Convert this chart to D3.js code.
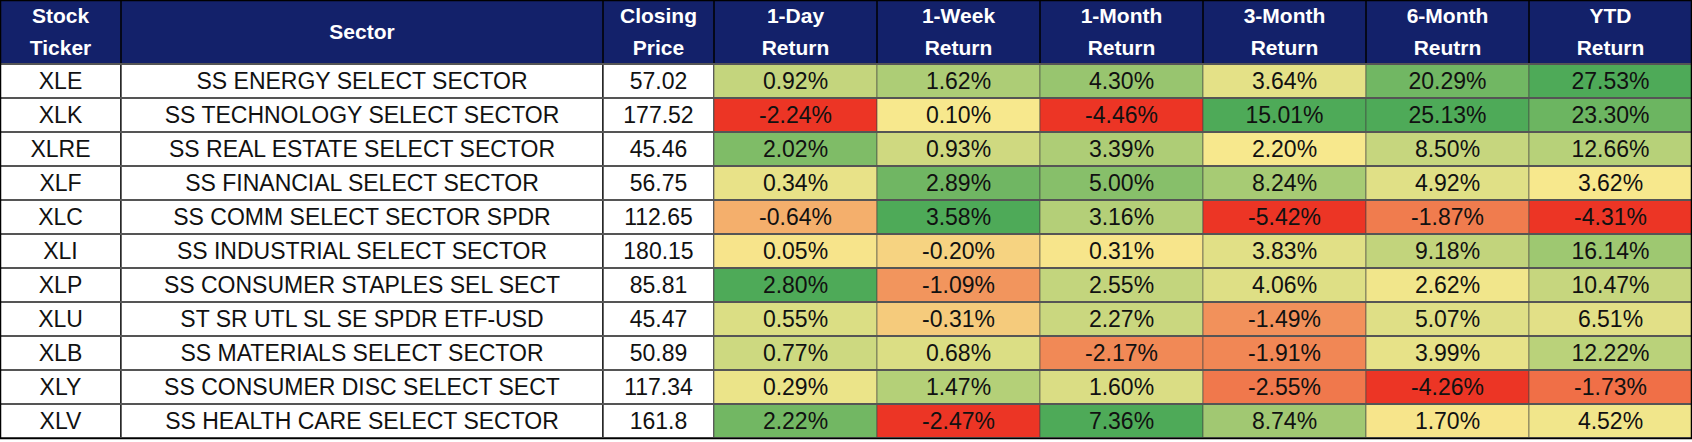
<!DOCTYPE html>
<html>
<head>
<meta charset="utf-8">
<script src="https://cdn.jsdelivr.net/npm/d3@7"></script>
<style>
  body { margin: 0; background: #fff; }
</style>
</head>
<body>
<div id="chart"></div>
<script>
const tickers = ["XLE", "XLK", "XLRE", "XLF", "XLC", "XLI", "XLP", "XLU", "XLB", "XLY", "XLV"];
const sectors = [
  "SS ENERGY SELECT SECTOR", "SS TECHNOLOGY SELECT SECTOR", "SS REAL ESTATE SELECT SECTOR",
  "SS FINANCIAL SELECT SECTOR", "SS COMM SELECT SECTOR SPDR", "SS INDUSTRIAL SELECT SECTOR",
  "SS CONSUMER STAPLES SEL SECT", "ST SR UTL SL SE SPDR ETF-USD", "SS MATERIALS SELECT SECTOR",
  "SS CONSUMER DISC SELECT SECT", "SS HEALTH CARE SELECT SECTOR"
];
const prices = ["57.02", "177.52", "45.46", "56.75", "112.65", "180.15", "85.81", "45.47", "50.89", "117.34", "161.8"];
const returnHeaders = [["1-Day", "Return"], ["1-Week", "Return"], ["1-Month", "Return"], ["3-Month", "Return"], ["6-Month", "Reutrn"], ["YTD", "Return"]];
const day1 = [0.92, -2.24, 2.02, 0.34, -0.64, 0.05, 2.80, 0.55, 0.77, 0.29, 2.22];
const week1 = [1.62, 0.10, 0.93, 2.89, 3.58, -0.20, -1.09, -0.31, 0.68, 1.47, -2.47];
const month1 = [4.30, -4.46, 3.39, 5.00, 3.16, 0.31, 2.55, 2.27, -2.17, 1.60, 7.36];
const month3 = [3.64, 15.01, 2.20, 8.24, -5.42, 3.83, 4.06, -1.49, -1.91, -2.55, 8.74];
const month6 = [20.29, 25.13, 8.50, 4.92, -1.87, 9.18, 2.62, 5.07, 3.99, -4.26, 1.70];
const ytd = [27.53, 23.30, 12.66, 3.62, -4.31, 16.14, 10.47, 6.51, 12.22, -1.73, 4.52];
const returnCols = [day1, week1, month1, month3, month6, ytd];
const colorMid = [0.1, 0.1, 0.4, 2.2, 1.8, 3.6];

const W = 1692, headerH = 64, rowH = 34;
const colW = [121, 482, 111, 163, 163, 163, 163, 163, 163];
const colX = [0];
colW.forEach((w, i) => colX.push(colX[i] + w));

const svg = d3.select("#chart").append("svg").attr("width", W).attr("height", 442);

// header
const head = svg.append("g");
head.append("rect").attr("x", 0).attr("y", 0).attr("width", colX[9]).attr("height", headerH).attr("fill", "#13216a");
const headers = [["Stock", "Ticker"], ["Sector"], ["Closing", "Price"]].concat(returnHeaders);
headers.forEach((h, i) => {
  const cx = colX[i] + colW[i] / 2;
  const t = head.append("text").attr("x", cx).attr("text-anchor", "middle")
    .attr("fill", "#fff").attr("font-family", "Liberation Sans, Arial, sans-serif")
    .attr("font-weight", "bold").attr("font-size", 21);
  if (h.length === 1) {
    t.attr("y", headerH / 2 + 7).text(h[0]);
  } else {
    t.append("tspan").attr("x", cx).attr("y", 23).text(h[0]);
    t.append("tspan").attr("x", cx).attr("y", 55).text(h[1]);
  }
  if (i > 0) head.append("line").attr("x1", colX[i]).attr("x2", colX[i]).attr("y1", 0).attr("y2", headerH).attr("stroke", "#000").attr("stroke-width", 1.5);
});

// colour scales per return column
const scales = returnCols.map((col, i) => d3.scaleLinear()
  .domain([d3.min(col), colorMid[i], d3.max(col)])
  .range(["#ec3525", "#f7e88d", "#4eaa58"])
  .interpolate(d3.interpolateRgb));

const y = d3.scaleBand().domain(d3.range(tickers.length)).range([headerH, headerH + rowH * tickers.length]);

const rows = svg.selectAll("g.row").data(tickers).join("g").attr("class", "row")
  .attr("transform", (d, i) => `translate(0,${y(i)})`);

rows.each(function (d, r) {
  const g = d3.select(this);
  const cells = [tickers[r], sectors[r], prices[r]].concat(returnCols.map(c => c[r].toFixed(2) + "%"));
  cells.forEach((txt, c) => {
    const fill = c < 3 ? "#fff" : scales[c - 3](returnCols[c - 3][r]);
    g.append("rect").attr("x", colX[c]).attr("y", 0).attr("width", colW[c]).attr("height", rowH)
      .attr("fill", fill).attr("stroke", c < 3 ? "#000" : "#444").attr("stroke-width", c < 3 ? 1.2 : 0.6);
    g.append("text").attr("x", colX[c] + colW[c] / 2).attr("y", rowH / 2 + 8)
      .attr("text-anchor", "middle").attr("fill", "#111")
      .attr("font-family", "Liberation Sans Narrow, Liberation Sans, Arial, sans-serif")
      .attr("font-size", 23).text(txt);
  });
});

// row separators (double-line look)
svg.selectAll("line.sep").data(d3.range(tickers.length + 1)).join("line").attr("class", "sep")
  .attr("x1", 0).attr("x2", colX[9])
  .attr("y1", i => headerH + i * rowH).attr("y2", i => headerH + i * rowH)
  .attr("stroke", "#555").attr("stroke-width", 2);
svg.append("rect").attr("x", 0.5).attr("y", 0.5).attr("width", colX[9] - 1).attr("height", headerH + rowH * tickers.length)
  .attr("fill", "none").attr("stroke", "#000").attr("stroke-width", 1.5);
</script>
</body>
</html>
